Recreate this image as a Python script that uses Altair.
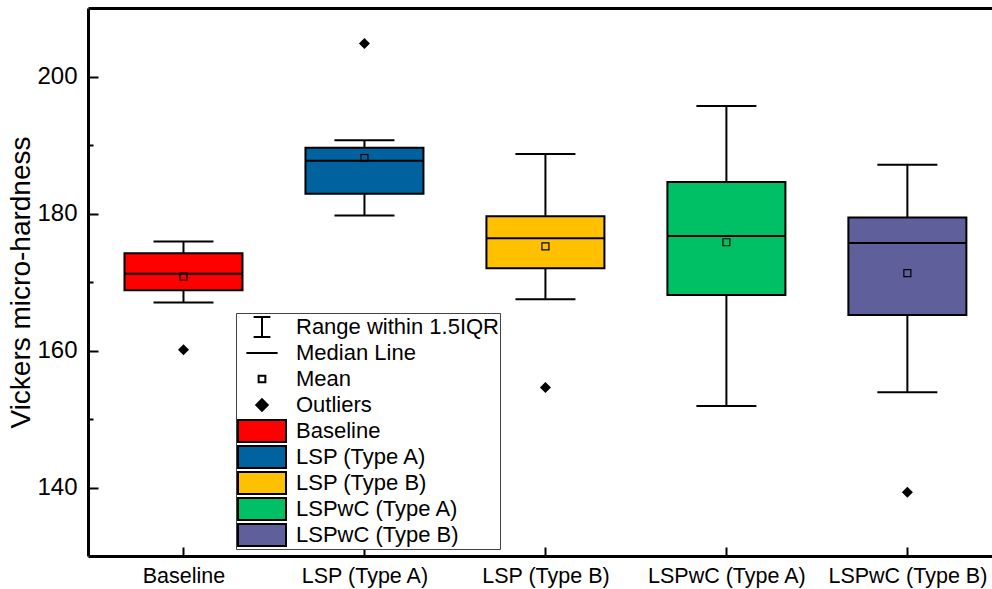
import json
import altair as alt
import pandas as pd

# ---------------- data ----------------
categories = ["Baseline", "LSP (Type A)", "LSP (Type B)", "LSPwC (Type A)", "LSPwC (Type B)"]
whisker_low = [167.0, 179.7, 167.5, 151.9, 153.9]
q1_values = [168.8, 182.9, 172.0, 168.1, 165.2]
median_values = [171.2, 187.7, 176.4, 176.7, 175.7]
q3_values = [174.2, 189.6, 179.6, 184.6, 179.4]
whisker_high = [175.9, 190.7, 188.7, 195.7, 187.1]
mean_values = [170.8, 188.1, 175.2, 175.8, 171.3]
outlier_cats = ["Baseline", "LSP (Type A)", "LSP (Type B)", "LSPwC (Type B)"]
outlier_values = [160.1, 204.8, 154.6, 139.3]
box_colors = ["#ff0000", "#0063a0", "#ffc000", "#00c066", "#5f5f9c"]
legend_stat_items = ["Range within 1.5IQR", "Median Line", "Mean", "Outliers"]
y_major_ticks = [140, 160, 180, 200]
y_minor_ticks = [150, 170, 190]

# ---------------- tables ----------------
positions = list(range(1, len(categories) + 1))
box_df = pd.DataFrame({
    "pos": positions, "cat": categories, "low": whisker_low, "q1": q1_values,
    "median": median_values, "q3": q3_values, "high": whisker_high, "mean": mean_values,
})
out_df = pd.DataFrame({
    "pos": [categories.index(c) + 1 for c in outlier_cats],
    "value": outlier_values,
})
legend_items = legend_stat_items + categories
legend_df = pd.DataFrame({"item": legend_items})

W, H = 904, 548
FONT = "Liberation Sans"
y_scale = alt.Scale(domain=[130, 210], nice=False, zero=False)
x_scale = alt.Scale(domain=[0.5, 5.44], nice=False, zero=False)
label_expr = f"{json.dumps(categories)}[datum.value - 1]"

# ---------------- axes ----------------
y_axis_main = alt.Axis(orient="left", values=y_major_ticks, ticks=False, tickSize=0,
                       labelFontSize=24, labelPadding=11, domainWidth=3,
                       title="Vickers micro-hardness", titleFontSize=28,
                       titleFontWeight="normal", titlePadding=1, grid=False)
x_axis_main = alt.Axis(orient="bottom", values=positions, labelExpr=label_expr,
                       ticks=False, tickSize=0, labelFontSize=21.5, labelPadding=9,
                       labelFlush=False, labelOverlap=False, domainWidth=3,
                       title=None, grid=False)
y_axis_ticks = alt.Axis(orient="right", offset=-W, values=y_major_ticks, labels=False,
                        domain=False, tickSize=10, tickWidth=2, title=None, grid=False)
x_axis_ticks = alt.Axis(orient="top", offset=-H, values=positions, labels=False,
                        domain=False, tickSize=9, tickWidth=2, title=None, grid=False)
y_axis_minor = alt.Axis(orient="right", offset=-W, values=y_minor_ticks, labels=False,
                        domain=False, tickSize=5, tickWidth=2, title=None, grid=False)
x_axis_top = alt.Axis(orient="top", offset=0, values=positions, labels=False,
                      ticks=False, domain=True, domainWidth=3, title=None, grid=False)

base = alt.Chart(box_df)

boxes = base.mark_bar(size=118, stroke="black", strokeWidth=2, opacity=1).encode(
    x=alt.X("pos:Q", scale=x_scale, axis=x_axis_main),
    y=alt.Y("q1:Q", scale=y_scale, axis=y_axis_main),
    y2="q3:Q",
    fill=alt.Fill("cat:N", scale=alt.Scale(domain=categories, range=box_colors), legend=None),
)

whisk_low = base.mark_rule(color="black", strokeWidth=2, opacity=1).encode(
    x=alt.X("pos:Q", scale=x_scale, axis=x_axis_ticks),
    y=alt.Y("low:Q", scale=y_scale, axis=y_axis_ticks),
    y2="q1:Q",
)
whisk_high = base.mark_rule(color="black", strokeWidth=2, opacity=1).encode(
    x=alt.X("pos:Q", scale=x_scale, axis=None),
    y=alt.Y("q3:Q", scale=y_scale, axis=None),
    y2="high:Q",
)
cap_low = base.mark_tick(orient="horizontal", size=60, thickness=2, color="black", opacity=1).encode(
    x=alt.X("pos:Q", scale=x_scale, axis=x_axis_top),
    y=alt.Y("low:Q", scale=y_scale, axis=y_axis_minor),
)
cap_high = base.mark_tick(orient="horizontal", size=60, thickness=2, color="black", opacity=1).encode(
    x=alt.X("pos:Q", scale=x_scale, axis=None),
    y=alt.Y("high:Q", scale=y_scale, axis=None),
)
median = base.mark_tick(orient="horizontal", size=118, thickness=2, color="black", opacity=1).encode(
    x=alt.X("pos:Q", scale=x_scale, axis=None),
    y=alt.Y("median:Q", scale=y_scale, axis=None),
)
mean = base.mark_point(shape="square", size=49, filled=False, stroke="black",
                       strokeWidth=1.2, opacity=1).encode(
    x=alt.X("pos:Q", scale=x_scale, axis=None),
    y=alt.Y("mean:Q", scale=y_scale, axis=None),
)
outliers = alt.Chart(out_df).mark_point(shape="diamond", size=121, filled=True,
                                        color="black", opacity=1).encode(
    x=alt.X("pos:Q", scale=x_scale, axis=None),
    y=alt.Y("value:Q", scale=y_scale, axis=None),
)

# ---------------- legend (driven by scale domains, no visible marks) ----------------
legend_shapes = [
    "M-0.35,-0.42H0.35M0,-0.42V0.42M-0.35,0.42H0.35",
    "M-0.65,0H0.65",
    "M-0.14,-0.14H0.14V0.14H-0.14Z",
    "M0,-0.24L0.24,0L0,0.24L-0.24,0Z",
] + ["M-1,-0.46H1V0.46H-1Z"] * len(categories)
legend_fills = ["transparent", "transparent", "white", "black"] + box_colors
legend_strokes = ["black"] * len(legend_items)

leg = alt.Legend(title=None, orient="none", legendX=148, legendY=305, padding=1,
                 strokeColor="#444444", fillColor="white", labelFont=FONT,
                 labelFontSize=22, labelColor="black", labelOffset=9, labelLimit=400,
                 clipHeight=26, rowPadding=0, symbolSize=2304, symbolStrokeWidth=2,
                 symbolOpacity=1)

legend_layer = alt.Chart(legend_df).transform_filter("false").mark_point(
    filled=True, size=2304, opacity=1, strokeWidth=2).encode(
    shape=alt.Shape("item:N", scale=alt.Scale(domain=legend_items, range=legend_shapes), legend=leg),
    fill=alt.Fill("item:N", scale=alt.Scale(domain=legend_items, range=legend_fills), legend=leg),
    stroke=alt.Stroke("item:N", scale=alt.Scale(domain=legend_items, range=legend_strokes), legend=leg),
)

chart = alt.layer(
    boxes, whisk_low, whisk_high, cap_low, cap_high, median, mean, outliers, legend_layer
).resolve_axis(
    x="independent", y="independent"
).resolve_scale(
    fill="independent", stroke="independent", shape="independent"
).properties(
    width=W, height=H,
    autosize=alt.AutoSizeParams(type="none"),
    padding={"left": 88, "top": 8, "right": 0, "bottom": 33},
    background="white",
).configure_view(
    stroke=None
).configure_axis(
    labelFont=FONT, titleFont=FONT, labelColor="black", titleColor="black",
    domainColor="black", tickColor="black", grid=False,
)

chart.save("out.html", embed_options={"renderer": "svg", "actions": False})
